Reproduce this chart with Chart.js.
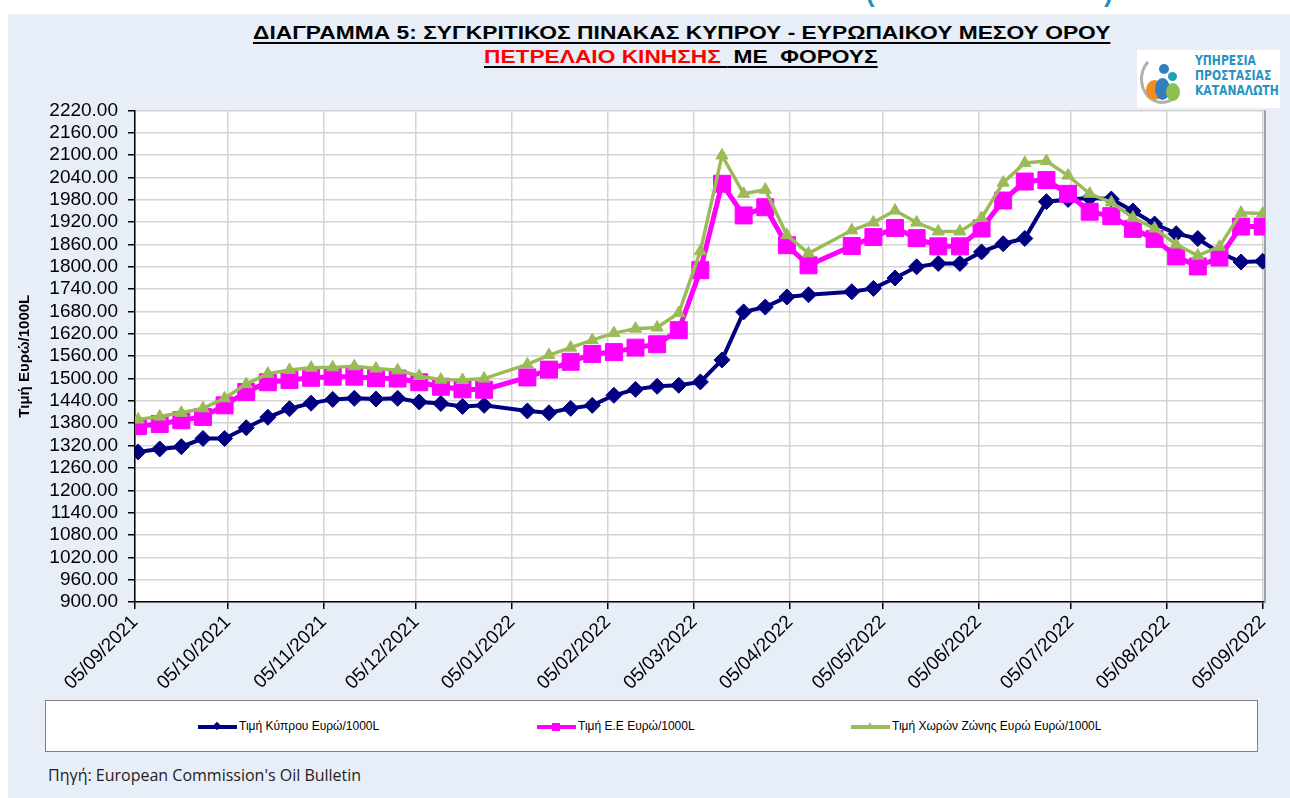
<!DOCTYPE html>
<html>
<head>
<meta charset="utf-8">
<script src="https://cdn.jsdelivr.net/npm/chart.js@4.4.0/dist/chart.umd.min.js"></script>
<style>
body { margin:0; width:1290px; height:798px; background:#fff; position:relative; overflow:hidden; font-family: Arial, "Liberation Sans", sans-serif; }
#panel { position:absolute; left:8px; top:14px; width:1282px; height:784px; background:#E8EEF7; }
.paren { position:absolute; top:-22px; color:#1F8FC4; font:bold 26px Arial, "Liberation Sans", sans-serif; }
.title { position:absolute; white-space:pre; font:bold 18px Arial, "Liberation Sans", sans-serif; line-height:20px; text-decoration:underline; text-decoration-thickness:2px; text-underline-offset:3px; transform-origin:left center; color:#000; }
#logo { position:absolute; left:1137px; top:50px; width:143px; height:58px; background:#fff; }
#logo .dot { position:absolute; border-radius:50%; }
#logo .txt { position:absolute; left:58px; top:3px; color:#2A93C2; font:bold 14px "DejaVu Sans Condensed", "Liberation Sans Narrow", sans-serif; line-height:15px; white-space:nowrap; transform-origin:left top; }
#wrap { position:absolute; left:0; top:89px; width:1290px; height:611px; }
#legend { position:absolute; left:45px; top:700px; width:1211px; height:50px; background:#fff; border:1px solid #808080; }
.item { position:absolute; top:26px; height:0; }
.item .ln { position:absolute; top:-2px; width:39px; height:4px; }
.item .mk { position:absolute; }
.item .lab { position:absolute; left:41px; top:-8px; font:12px Arial, "Liberation Sans", sans-serif; white-space:nowrap; color:#000; }
#source { position:absolute; left:48px; top:764px; font:16px "Open Sans", sans-serif; color:#222; }
</style>
</head>
<body>
<div id="panel"></div>
<div class="paren" style="left:866px">(</div>
<div class="paren" style="left:1104px">)</div>

<div class="title" id="t1" style="left:253px; top:23px">ΔΙΑΓΡΑΜΜΑ 5: ΣΥΓΚΡΙΤΙΚΟΣ ΠΙΝΑΚΑΣ ΚΥΠΡΟΥ - ΕΥΡΩΠΑΙΚΟΥ ΜΕΣΟΥ ΟΡΟΥ</div>
<div class="title" id="t2" style="left:484px; top:47px"><span style="color:#FF0000">ΠΕΤΡΕΛΑΙΟ ΚΙΝΗΣΗΣ </span> ΜΕ  ΦΟΡΟΥΣ</div>

<div id="logo">
  <div class="dot" style="left:3px;top:4px;width:44px;height:50px;border:3px solid #B0B0B0;border-right-color:transparent;border-top-color:transparent;box-sizing:border-box"></div>
  <div class="dot" style="left:22px;top:14px;width:10px;height:10px;background:#2F7FC1"></div>
  <div class="dot" style="left:31px;top:22px;width:9px;height:9px;background:#1BA3B8"></div>
  <div class="dot" style="left:9px;top:30px;width:17px;height:20px;background:#F28C1E"></div>
  <div class="dot" style="left:18px;top:28px;width:15px;height:22px;background:#2F7FC1"></div>
  <div class="dot" style="left:29px;top:33px;width:14px;height:18px;background:#8CC152"></div>
  <div class="txt" id="logotxt">ΥΠΗΡΕΣΙΑ<br>ΠΡΟΣΤΑΣΙΑΣ<br>ΚΑΤΑΝΑΛΩΤΗ</div>
</div>

<div id="wrap"><canvas id="chart" width="1290" height="611"></canvas></div>

<div id="legend">
  <div class="item" style="left:152px">
    <div class="ln" style="background:#000080"></div>
    <div class="mk" style="left:16px;top:-4px;width:6px;height:6px;background:#000080;transform:rotate(45deg)"></div>
    <div class="lab">Τιμή Κύπρου Ευρώ/1000L</div>
  </div>
  <div class="item" style="left:491px">
    <div class="ln" style="background:#FF00FF"></div>
    <div class="mk" style="left:15px;top:-4px;width:8px;height:8px;background:#FF00FF"></div>
    <div class="lab">Τιμή Ε.Ε Ευρώ/1000L</div>
  </div>
  <div class="item" style="left:805px">
    <div class="ln" style="background:#9BBB59"></div>
    <div class="mk" style="left:15px;top:-5px;width:0;height:0;border-left:4px solid transparent;border-right:4px solid transparent;border-bottom:7px solid #9BBB59"></div>
    <div class="lab">Τιμή Χωρών Ζώνης Ευρώ Ευρώ/1000L</div>
  </div>
</div>

<div id="source">Πηγή: European Commission's Oil Bulletin</div>

<script>
// weekly oil bulletin dates
const dates = [
  '06/09/2021','13/09/2021','20/09/2021','27/09/2021','04/10/2021','11/10/2021','18/10/2021','25/10/2021',
  '01/11/2021','08/11/2021','15/11/2021','22/11/2021','29/11/2021','06/12/2021','13/12/2021','20/12/2021','27/12/2021',
  '10/01/2022','17/01/2022','24/01/2022','31/01/2022','07/02/2022','14/02/2022','21/02/2022','28/02/2022',
  '07/03/2022','14/03/2022','21/03/2022','28/03/2022','04/04/2022','11/04/2022',
  '25/04/2022','02/05/2022','09/05/2022','16/05/2022','23/05/2022','30/05/2022','06/06/2022','13/06/2022',
  '20/06/2022','27/06/2022','04/07/2022','11/07/2022','18/07/2022','25/07/2022','01/08/2022','08/08/2022',
  '15/08/2022','22/08/2022','29/08/2022','05/09/2022'
];
const cyprus = [
  1303,1311,1317,1339,1339,1368,1396,1419,1434,1444,1447,1445,1447,1437,1433,1425,1428,
  1413,1408,1420,1428,1455,1471,1479,1482,1491,1550,1679,1692,1719,1725,
  1733,1742,1770,1800,1809,1809,1840,1862,1876,1975,1981,1985,1982,1950,1915,1889,1876,1838,1813,1815
];
const eu = [
  1372,1378,1388,1397,1428,1464,1490,1496,1502,1505,1505,1501,1500,1490,1478,1471,1470,
  1503,1524,1545,1566,1571,1583,1592,1630,1791,2023,1938,1960,1858,1804,
  1856,1880,1904,1877,1855,1855,1903,1978,2029,2033,1996,1948,1936,1902,1875,1828,1801,1825,1908,1908
];
const eurozone = [
  1390,1398,1408,1420,1447,1485,1513,1523,1529,1530,1533,1527,1522,1507,1497,1496,1500,
  1538,1563,1583,1603,1622,1634,1637,1676,1842,2099,1996,2007,1885,1836,
  1898,1919,1951,1919,1895,1895,1931,2026,2079,2084,2045,1996,1973,1932,1903,1860,1830,1854,1945,1943
];
const tickDates = [
  '05/09/2021','05/10/2021','05/11/2021','05/12/2021','05/01/2022','05/02/2022','05/03/2022',
  '05/04/2022','05/05/2022','05/06/2022','05/07/2022','05/08/2022','05/09/2022'
];
const seriesNames = ['Τιμή Κύπρου Ευρώ/1000L', 'Τιμή Ε.Ε Ευρώ/1000L', 'Τιμή Χωρών Ζώνης Ευρώ Ευρώ/1000L'];

// days since 05/09/2021
function dayNum(s) {
  const [d, m, y] = s.split('/').map(Number);
  return (Date.UTC(y, m - 1, d) - Date.UTC(2021, 8, 5)) / 86400000;
}
const tickDays = tickDates.map(dayNum);
const pts = arr => dates.map((d, i) => ({ x: dayNum(d), y: arr[i] }));

// stretch the html titles to the widths seen in the picture
function fit(id, w) {
  const el = document.getElementById(id);
  el.style.transform = 'scaleX(' + (w / el.offsetWidth) + ')';
}
fit('t1', 857);
fit('t2', 394);
fit('logotxt', 84);

const plotBg = {
  id: 'plotBg',
  beforeDraw(chart) {
    const { ctx, chartArea: a } = chart;
    ctx.save();
    ctx.fillStyle = '#fff';
    ctx.fillRect(a.left, a.top, a.width, a.height);
    ctx.restore();
  },
  beforeDatasetsDraw(chart) {
    const { ctx, chartArea: a } = chart;
    ctx.save();
    ctx.strokeStyle = '#A0A0A0';
    ctx.lineWidth = 2;
    ctx.beginPath();
    ctx.moveTo(a.right, a.top);
    ctx.lineTo(a.right, a.bottom);
    ctx.stroke();
    ctx.restore();
  }
};

Chart.defaults.font.family = 'Arial, "Liberation Sans", sans-serif';
Chart.defaults.color = '#000';

new Chart(document.getElementById('chart').getContext('2d'), {
  type: 'line',
  data: {
    datasets: [{
      label: seriesNames[0],
      data: pts(cyprus),
      borderColor: '#000080',
      backgroundColor: '#000080',
      borderWidth: 4,
      pointStyle: 'rectRot',
      pointRadius: 8,
      pointBorderWidth: 1,
      order: 3
    }, {
      label: seriesNames[1],
      data: pts(eu),
      borderColor: '#FF00FF',
      backgroundColor: '#FF00FF',
      borderWidth: 5,
      pointStyle: 'rect',
      pointRadius: 12,
      pointBorderWidth: 1,
      order: 2
    }, {
      label: seriesNames[2],
      data: pts(eurozone),
      borderColor: '#9BBB59',
      backgroundColor: '#9BBB59',
      borderWidth: 3.5,
      pointStyle: 'triangle',
      pointRadius: 7,
      pointBorderWidth: 1,
      order: 1
    }]
  },
  options: {
    responsive: false,
    animation: false,
    devicePixelRatio: 1,
    layout: { padding: { top: 0, right: 25, left: 0, bottom: 0 } },
    plugins: { legend: { display: false }, tooltip: { enabled: false } },
    scales: {
      x: {
        type: 'linear',
        min: 0,
        max: 365.75,
        afterBuildTicks: s => { s.ticks = tickDays.map(v => ({ value: v })); },
        afterFit: s => { s.height = 98; },
        ticks: {
          autoSkip: false,
          minRotation: 45,
          maxRotation: 45,
          padding: 2,
          font: { size: 19 },
          callback: v => tickDates[tickDays.indexOf(v)]
        },
        grid: { color: '#D3D3D3', lineWidth: 1.5, tickColor: '#000', tickLength: 7 },
        border: { color: '#000', width: 1.5 }
      },
      y: {
        min: 900,
        max: 2220,
        afterFit: s => { s.width = 135; },
        ticks: {
          stepSize: 60,
          autoSkip: false,
          padding: 10,
          font: { size: 19 },
          callback: v => v.toFixed(2)
        },
        grid: { color: '#D3D3D3', lineWidth: 1.5, tickColor: '#000', tickLength: 7 },
        border: { color: '#000', width: 1.5 },
        title: {
          display: true,
          text: 'Τιμή Ευρώ/1000L',
          font: { size: 15, weight: 'bold' },
          padding: { top: 16, bottom: 0 }
        }
      }
    }
  },
  plugins: [plotBg]
});
</script>
</body>
</html>
